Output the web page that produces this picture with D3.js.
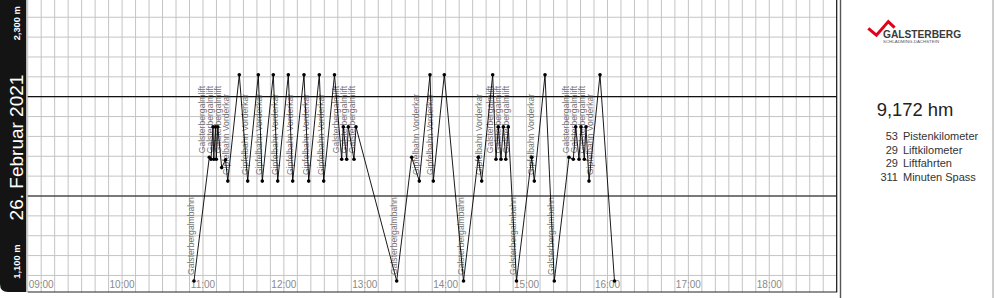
<!DOCTYPE html>
<html>
<head>
<meta charset="utf-8">
<script src="https://cdn.jsdelivr.net/npm/d3@7"></script>
<style>
  html, body { margin: 0; padding: 0; background: #fff; }
  svg { display: block; font-family: "Liberation Sans", Arial, sans-serif; }
</style>
</head>
<body>
<div id="chart"></div>
<script>
// track points: clock time + elevation (m)
const times = [
  "10:53:20", "11:04:41", "11:05:57", "11:07:26", "11:08:01", "11:09:17", "11:09:53", "11:10:59",
  "11:13:53", "11:16:42", "11:18:24", "11:26:56", "11:33:10", "11:41:02", "11:43:59", "11:52:09",
  "11:55:25", "12:03:17", "12:06:32", "12:14:55", "12:18:24", "12:26:16", "12:29:32", "12:37:32",
  "12:42:53", "12:44:04", "12:46:35", "12:47:46", "12:52:00", "12:53:29", "13:23:40", "13:34:48",
  "13:40:26", "13:48:22", "13:50:49", "13:58:58", "14:13:13", "14:24:11", "14:26:43", "14:34:52",
  "14:37:19", "14:39:01", "14:41:02", "14:42:44", "14:44:35", "14:46:26", "14:52:31", "15:03:47",
  "15:05:43", "15:13:40", "15:20:33", "15:31:27", "15:34:39", "15:36:26", "15:38:53", "15:40:22",
  "15:42:49", "15:44:04", "15:46:18", "15:54:27", "16:05:12"
];
const elevations = [
  972, 1595, 1585, 1748, 1585, 1748, 1585, 1748,
  1543, 1582, 1475, 2010, 1475, 2010, 1475, 2010,
  1475, 2010, 1475, 2010, 1475, 2010, 1475, 2010,
  1585, 1748, 1585, 1748, 1585, 1748, 972, 1595,
  1475, 2010, 1475, 2010, 972, 1595, 1475, 2010,
  1585, 1748, 1585, 1748, 1585, 1748, 972, 1595,
  1475, 2010, 972, 1595, 1585, 1748, 1585, 1748,
  1585, 1748, 1475, 2010, 972
];

// lift rides: index of the track point where the ride starts, and the lift
const rideStarts = [0, 2, 4, 6, 10, 12, 14, 16, 18, 20, 22, 24, 26, 28, 30,
  32, 34, 36, 38, 40, 42, 44, 46, 48, 50, 52, 54, 56, 58];
const rideLifts = [
  "Galsterbergalmbahn", "Galsterbergalmlift", "Galsterbergalmlift", "Galsterbergalmlift",
  "Gipfelbahn Vorderkar", "Gipfelbahn Vorderkar", "Gipfelbahn Vorderkar", "Gipfelbahn Vorderkar",
  "Gipfelbahn Vorderkar", "Gipfelbahn Vorderkar", "Gipfelbahn Vorderkar",
  "Galsterbergalmlift", "Galsterbergalmlift", "Galsterbergalmlift",
  "Galsterbergalmbahn", "Gipfelbahn Vorderkar", "Gipfelbahn Vorderkar",
  "Galsterbergalmbahn", "Gipfelbahn Vorderkar",
  "Galsterbergalmlift", "Galsterbergalmlift", "Galsterbergalmlift",
  "Galsterbergalmbahn", "Gipfelbahn Vorderkar", "Galsterbergalmbahn",
  "Galsterbergalmlift", "Galsterbergalmlift", "Galsterbergalmlift", "Gipfelbahn Vorderkar"
];

const refElevations = [1400, 1900];
const bandLabels = [2300, 1100];
const dateLabel = "26. Februar 2021";
const timeStart = "08:50:00", timeEnd = "18:50:00";

const totalAscent = 9172;
const statValues = [53, 29, 29, 311];
const statLabels = ["Pistenkilometer", "Liftkilometer", "Liftfahrten", "Minuten Spass"];

const W = 995, H = 298;
const plot = { left: 27.7, right: 836.7, top: 0, bottom: 292 };

const parseT = d3.timeParse("%H:%M:%S");
const track = times.map((t, i) => ({ t: parseT(t), e: elevations[i] }));

const x = d3.scaleTime()
  .domain([parseT(timeStart), parseT(timeEnd)])
  .range([plot.left, plot.right]);
const y = d3.scaleLinear()
  .domain([1400, 1900])
  .range([196, 96.7]);

const svg = d3.select("#chart").append("svg")
  .attr("width", W)
  .attr("height", H);

// grid
const grid = svg.append("g");
grid.selectAll(".vgrid")
  .data(d3.timeMinute.every(10).range(x.domain()[0], x.domain()[1]))
  .join("line")
  .attr("x1", d => x(d)).attr("x2", d => x(d))
  .attr("y1", plot.top).attr("y2", plot.bottom)
  .attr("stroke", "#c4c4c4").attr("stroke-width", 1);

const yTicks = d3.range(900, 2500, 100).filter(v => y(v) > plot.top && y(v) < plot.bottom);
grid.selectAll(".hgrid")
  .data(yTicks)
  .join("line")
  .attr("x1", plot.left).attr("x2", plot.right)
  .attr("y1", d => y(d)).attr("y2", d => y(d))
  .attr("stroke", "#c4c4c4").attr("stroke-width", 1);

// reference elevations
svg.selectAll(".ref")
  .data(refElevations)
  .join("line")
  .attr("x1", plot.left).attr("x2", plot.right)
  .attr("y1", d => y(d)).attr("y2", d => y(d))
  .attr("stroke", "#111").attr("stroke-width", 1.2);

// hour labels
svg.selectAll(".hour")
  .data(d3.timeHour.every(1).range(x.domain()[0], x.domain()[1]))
  .join("text")
  .attr("x", d => x(d))
  .attr("y", 288.3)
  .attr("text-anchor", "middle")
  .attr("font-size", "10px")
  .attr("fill", "#8a8a8a")
  .text(d3.timeFormat("%H:%M"));

// lift labels (drawn below the track)
const labelData = rideStarts.map((i, k) => ({
  lift: rideLifts[k],
  x0: x(track[i].t),
  y0: y(track[i].e) - 6
}));
const labels = svg.append("g").selectAll("text")
  .data(labelData)
  .join("text")
  .attr("font-size", "8.6px")
  .attr("fill", "#727272")
  .text(d => d.lift);
labels.each(function(d) { d.len = this.getComputedTextLength(); d.x = d.x0; });

// push overlapping labels a bit apart
const gap = 8;
for (let it = 0; it < 120; it++) {
  for (let a = 0; a < labelData.length; a++) {
    for (let b = a + 1; b < labelData.length; b++) {
      const p = labelData[a], q = labelData[b];
      const overlapY = p.y0 > q.y0 - q.len && q.y0 > p.y0 - p.len;
      if (!overlapY) continue;
      const d = q.x - p.x;
      if (d < gap) { const s = (gap - d) / 2; p.x -= s; q.x += s; }
    }
  }
}
labels.attr("transform", d => `translate(${d.x},${d.y0}) rotate(-90)`);

// track line + points
svg.append("path")
  .datum(track)
  .attr("fill", "none")
  .attr("stroke", "#000")
  .attr("stroke-width", 0.9)
  .attr("d", d3.line().x(d => x(d.t)).y(d => y(d.e)));

svg.selectAll(".pt")
  .data(track)
  .join("circle")
  .attr("cx", d => x(d.t))
  .attr("cy", d => y(d.e))
  .attr("r", 1.8)
  .attr("fill", "#000");

// plot frame
svg.append("line")
  .attr("x1", plot.left).attr("x2", plot.right + 0.5)
  .attr("y1", plot.bottom).attr("y2", plot.bottom)
  .attr("stroke", "#222").attr("stroke-width", 1.2);
svg.append("line")
  .attr("x1", plot.right).attr("x2", plot.right)
  .attr("y1", 0).attr("y2", plot.bottom)
  .attr("stroke", "#111").attr("stroke-width", 1.2);

// left date band
svg.append("path")
  .attr("d", `M0,-10 H26.3 V${plot.bottom} H8 Q0,${plot.bottom} 0,${plot.bottom - 8} Z`)
  .attr("fill", "#141414");

svg.append("text")
  .attr("transform", "translate(23,147.5) rotate(-90)")
  .attr("text-anchor", "middle")
  .attr("font-size", "19px")
  .attr("fill", "#fff")
  .text(dateLabel);

svg.selectAll(".band-label")
  .data(bandLabels)
  .join("text")
  .attr("transform", d => `translate(20,${y(d) + 6}) rotate(-90)`)
  .attr("text-anchor", "middle")
  .attr("font-size", "9.3px")
  .attr("font-weight", "bold")
  .attr("fill", "#fff")
  .text(d => d3.format(",")(d) + " m");

// right panel
svg.append("line")
  .attr("x1", 840.5).attr("x2", 840.5)
  .attr("y1", 0).attr("y2", H)
  .attr("stroke", "#555").attr("stroke-width", 1.4);
svg.append("line")
  .attr("x1", 993).attr("x2", 993)
  .attr("y1", 0).attr("y2", H)
  .attr("stroke", "#9a9a9a").attr("stroke-width", 1);

// logo
svg.append("path")
  .attr("d", "M868.3,28.4 L876.4,35.2 L888.3,21.6 L894.6,27.6")
  .attr("fill", "none")
  .attr("stroke", "#e2001a")
  .attr("stroke-width", 3)
  .attr("stroke-linejoin", "miter");
svg.append("text")
  .attr("x", 883).attr("y", 38)
  .attr("font-size", "10.2px")
  .attr("font-weight", "bold")
  .attr("fill", "#3a3a3a")
  .text("GALSTERBERG");
svg.append("text")
  .attr("x", 883).attr("y", 42.6)
  .attr("font-size", "4.4px")
  .attr("fill", "#555")
  .text("SCHLADMING-DACHSTEIN");

svg.append("text")
  .attr("x", 915).attr("y", 116)
  .attr("text-anchor", "middle")
  .attr("font-size", "18.4px")
  .attr("fill", "#222")
  .text(d3.format(",")(totalAscent) + " hm");

const stats = svg.append("g").selectAll("g")
  .data(statValues)
  .join("g")
  .attr("transform", (d, i) => `translate(0,${140 + i * 13.67})`);
stats.append("text")
  .attr("x", 898).attr("text-anchor", "end")
  .attr("font-size", "11px").attr("fill", "#333")
  .text(d => d);
stats.append("text")
  .attr("x", 903)
  .attr("font-size", "11px").attr("fill", "#333")
  .text((d, i) => statLabels[i]);
</script>
</body>
</html>
